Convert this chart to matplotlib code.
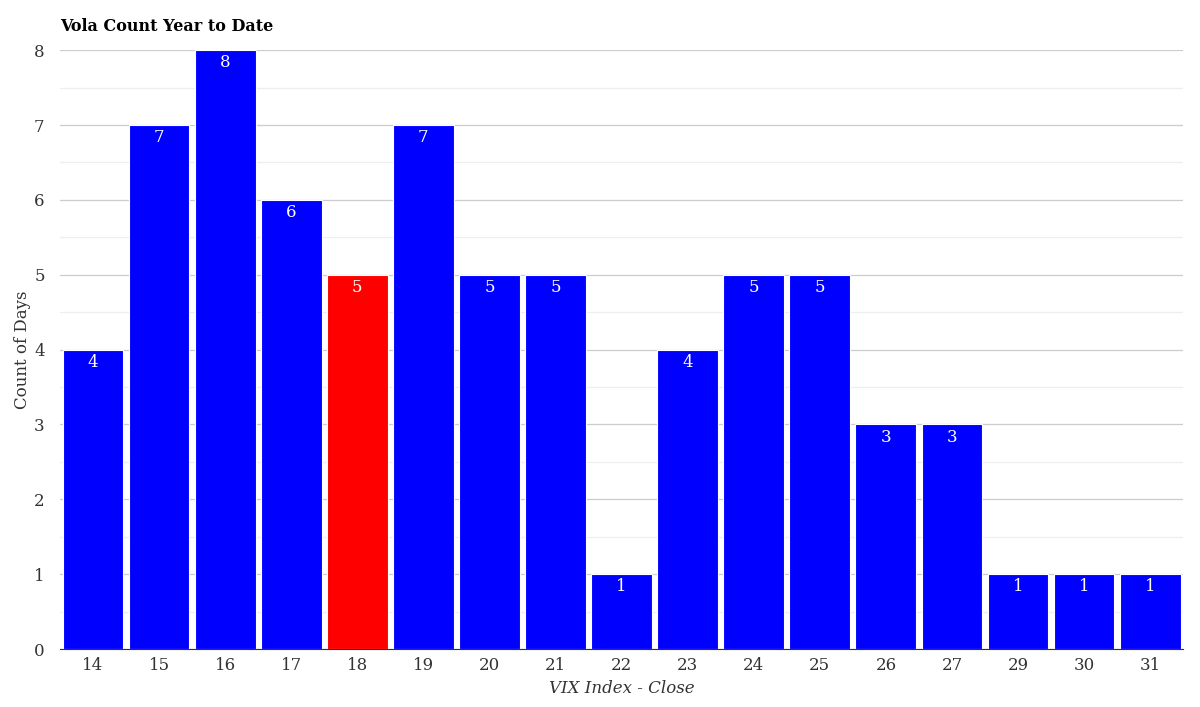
import matplotlib.pyplot as plt
import numpy as np

vix_levels = ["14", "15", "16", "17", "18", "19", "20", "21", "22", "23",
              "24", "25", "26", "27", "29", "30", "31"]
day_counts = [4, 7, 8, 6, 5, 7, 5, 5, 1, 4, 5, 5, 3, 3, 1, 1, 1]
highlight = "18"

plt.rcParams['font.family'] = 'DejaVu Serif'

fig = plt.figure(figsize=(12, 7.07), dpi=100)
ax = fig.add_axes([0.05, 0.082, 0.936, 0.847])

x = np.arange(len(vix_levels))
colors = ["#ff0000" if v == highlight else "#0000ff" for v in vix_levels]
bars = ax.bar(x, day_counts, width=0.92, color=colors, edgecolor="white", linewidth=0.8, zorder=3)

for xi, c in zip(x, day_counts):
    ax.text(xi, c - 0.055, str(c), ha="center", va="top", color="white", fontsize=12, zorder=4)

ax.set_xlim(-0.5, len(vix_levels) - 0.5)
ax.set_ylim(0, 8)
ax.set_xticks(x)
ax.set_xticklabels(vix_levels)
ax.set_yticks(range(0, 9))
ax.set_yticks(np.arange(0.5, 8, 1), minor=True)
ax.grid(axis="y", which="major", color="#cccccc", linewidth=0.9, zorder=0)
ax.grid(axis="y", which="minor", color="#eeeeee", linewidth=0.9, zorder=0)
ax.tick_params(axis="both", which="both", length=0, labelsize=12, labelcolor="#333333")
ax.tick_params(axis="x", pad=6)
ax.tick_params(axis="y", pad=11)

for s in ["top", "right", "left"]:
    ax.spines[s].set_visible(False)
ax.spines["bottom"].set_color("#333333")
ax.spines["bottom"].set_zorder(5)

ax.set_xlabel("VIX Index - Close", fontstyle="italic", fontsize=12, color="#333333", labelpad=4)
ax.set_ylabel("Count of Days", fontsize=12, color="#333333", labelpad=2)
fig.text(0.05, 0.963, "Vola Count Year to Date", fontweight="bold", fontsize=11.5, ha="left", va="center")

fig.savefig("out.png")
